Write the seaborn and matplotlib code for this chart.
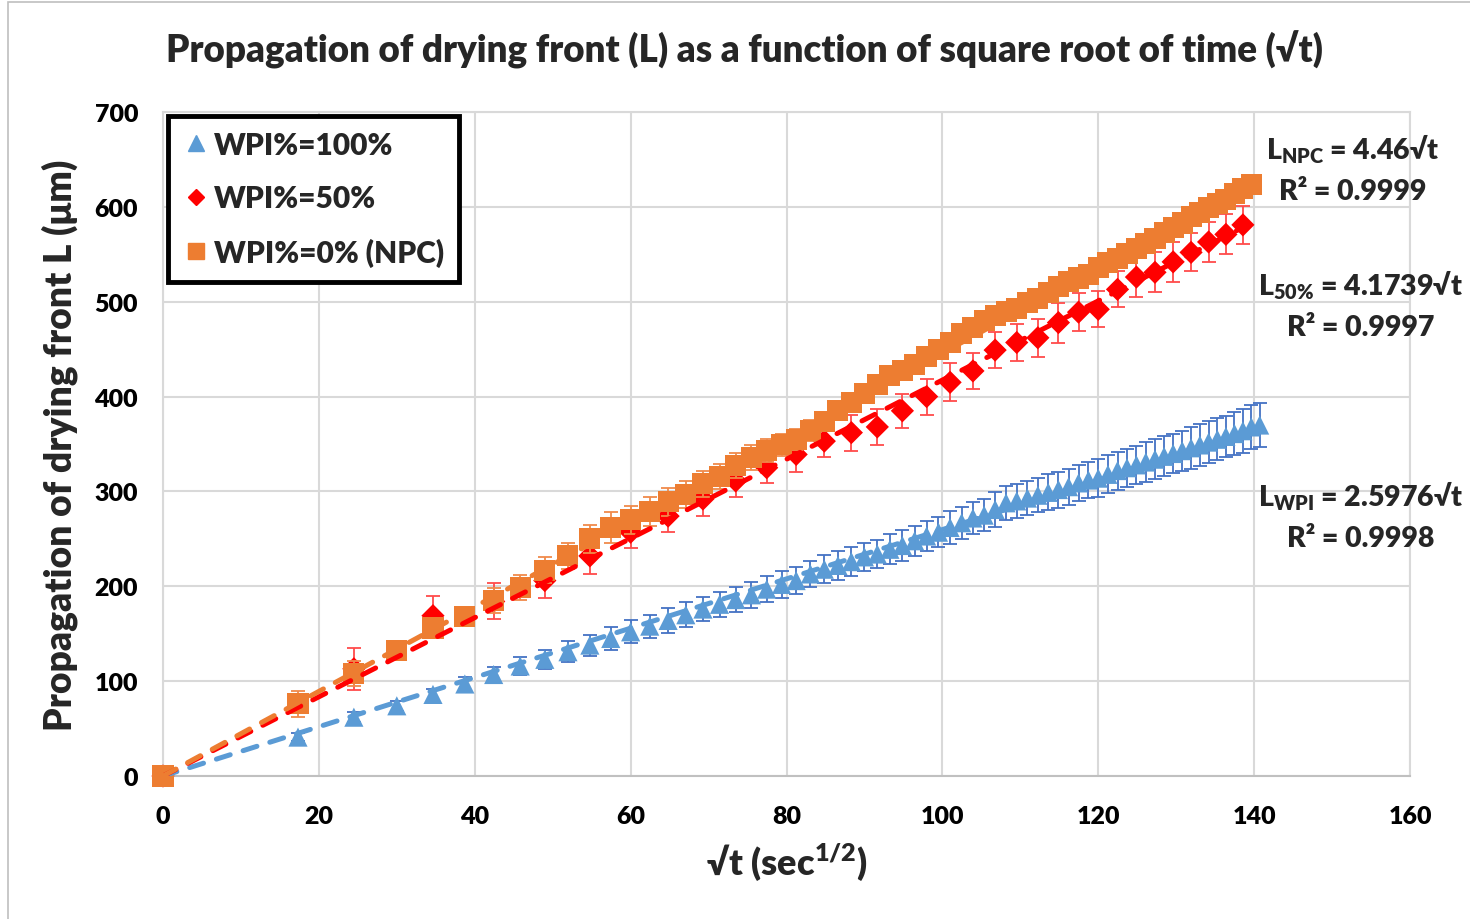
import numpy as np
import pandas as pd
import matplotlib
matplotlib.use("Agg")
import matplotlib.pyplot as plt
import seaborn as sns
from matplotlib.lines import Line2D
from matplotlib.patches import Rectangle

# square root of time (sec^1/2), sampled every 300 s
sqrt_t = [0, 17.32, 24.49, 30.0, 34.64, 38.73, 42.43, 45.83, 48.99, 51.96, 54.77,
          57.45, 60.0, 62.45, 64.81, 67.08, 69.28, 71.41, 73.48, 75.5, 77.46, 79.37,
          81.24, 83.07, 84.85, 86.6, 88.32, 90.0, 91.65, 93.27, 94.87, 96.44, 97.98,
          99.5, 100.99, 102.47, 103.92, 105.36, 106.77, 108.17, 109.54, 110.91,
          112.25, 113.58, 114.89, 116.19, 117.47, 118.74, 120.0, 121.24, 122.47,
          123.69, 124.9, 126.1, 127.28, 128.45, 129.61, 130.77, 131.91, 133.04,
          134.16, 135.28, 136.38, 137.48, 138.56, 139.64, 140.71]

# WPI%=100%
L_wpi = [0, 41, 62, 74, 86, 97, 107, 116, 123, 131, 138, 145, 152, 158, 164, 170,
         176, 181, 186, 191, 197, 202, 206, 213, 218, 222, 226, 231, 234, 239, 243,
         248, 253, 257, 262, 267, 272, 275, 281, 288, 290, 293, 296, 299, 302, 305,
         309, 312, 314, 318, 322, 325, 328, 331, 334, 337, 340, 343, 346, 349, 352,
         355, 358, 361, 364, 368, 370]
err_wpi = [0, 4, 5, 5, 6, 7, 8, 9, 10, 11, 11, 12, 12, 12, 13, 13, 13, 13, 13, 14,
           14, 14, 14, 14, 15, 15, 15, 15, 15, 16, 16, 16, 16, 16, 17, 17, 17, 17,
           18, 18, 18, 18, 18, 19, 19, 19, 19, 19, 20, 20, 20, 20, 20, 21, 21, 21,
           21, 21, 22, 22, 22, 22, 22, 23, 23, 23, 23]

# WPI%=50% (sampled every 600 s)
sqrt_t_50 = [0, 24.49, 34.64, 42.43, 48.99, 54.77, 60.0, 64.81, 69.28, 73.48, 77.46,
             81.24, 84.85, 88.32, 91.65, 94.87, 97.98, 100.99, 103.92, 106.77,
             109.54, 112.25, 114.89, 117.47, 120.0, 122.47, 124.9, 127.28, 129.61,
             131.91, 134.16, 136.38, 138.56]
L_50 = [0, 113, 169, 184, 206, 232, 257, 274, 292, 311, 325, 339, 353, 362, 368,
        385, 400, 415, 427, 449, 457, 462, 478, 489, 492, 513, 526, 531, 542, 552,
        563, 571, 581]
err_50 = [0, 22, 21, 19, 18, 19, 17, 17, 18, 17, 16, 18, 17, 19, 19, 18, 19, 20, 19,
          19, 20, 20, 21, 20, 19, 19, 21, 21, 21, 20, 21, 21, 20]

# WPI%=0% (NPC)
sqrt_t_npc = sqrt_t[:66]
L_npc = [0, 76, 108, 132, 156, 168, 185, 199, 217, 232, 250, 262, 270, 279, 289, 297,
         308, 316, 327, 336, 343, 349, 355, 364, 374, 385, 394, 403, 413, 422, 427,
         434, 442, 450, 457, 466, 473, 480, 485, 490, 493, 499, 503, 510, 516, 521,
         525, 529, 536, 541, 546, 551, 556, 561, 567, 573, 578, 583, 590, 594, 599,
         604, 608, 614, 619, 624]
err_npc = [0, 14, 13, 10, 10, 9, 13, 13, 14, 14, 15, 16, 15, 15, 15, 14, 14, 13, 13,
           13, 12, 12, 11, 11, 10, 10, 10, 9, 9, 9, 9, 9, 8, 8, 8, 8, 8, 8, 8, 8, 8,
           8, 8, 8, 8, 8, 8, 8, 8, 8, 8, 8, 8, 8, 8, 8, 8, 8, 8, 8, 8, 8, 8, 8, 8, 8]

labels = ["WPI%=100%", "WPI%=50%", "WPI%=0% (NPC)"]
slopes = [2.5976, 4.1739, 4.46]
r2 = ["0.9998", "0.9997", "0.9999"]

W = "heavy"

sns.set_theme(style="whitegrid")
plt.rcParams["font.family"] = ["Lato", "DejaVu Sans"]
plt.rcParams["font.weight"] = W
plt.rcParams["mathtext.fontset"] = "custom"
plt.rcParams["mathtext.rm"] = "Lato:heavy"
plt.rcParams["mathtext.it"] = "Lato:heavy"
plt.rcParams["mathtext.bf"] = "Lato:heavy"

fig = plt.figure(figsize=(14.7, 9.2), dpi=100)
ax = fig.add_axes([163 / 1470, 1 - 777 / 920, 1247 / 1470, 664 / 920])

series = [
    (sqrt_t, L_wpi, err_wpi, "#5B9BD5", "#4472C4", "^", 190),
    (sqrt_t_50, L_50, err_50, "#FF0000", "#FF4B4B", "D", 140),
    (sqrt_t_npc, L_npc, err_npc, "#ED7D31", "#F08A4B", "s", 230),
]

for i, (x, y, e, col, ecol, mk, size) in enumerate(series):
    df = pd.DataFrame({"sqrt_t": x, "L": y})
    ax.errorbar(x, y, yerr=e, fmt="none", ecolor=ecol, elinewidth=1.3,
                capsize=5, capthick=1.3, zorder=2 + 2 * i)
    sns.scatterplot(data=df, x="sqrt_t", y="L", marker=mk, color=col, s=size,
                    edgecolor="none", linewidth=0, ax=ax, zorder=3 + 2 * i,
                    clip_on=False)

# trend lines (L = k*sqrt(t))
n_before = len(ax.lines)
for (x, y, e, col, ecol, mk, size), k in zip(series, slopes):
    fit = pd.DataFrame({"sqrt_t": [0, max(x)], "L": [0, k * max(x)]})
    sns.lineplot(data=fit, x="sqrt_t", y="L", color=col, lw=3.6, ax=ax, zorder=10)
for line in ax.lines[n_before:]:
    line.set_linestyle((0, (2.9, 2.7)))
    line.set_dash_capstyle("round")

ax.set_xlim(0, 160)
ax.set_ylim(0, 700)
ax.set_xticks(range(0, 161, 20))
ax.set_yticks(range(0, 701, 100))
ax.grid(True, color="#d9d9d9", lw=1.5)
for s in ax.spines.values():
    s.set_color("#d9d9d9")
    s.set_linewidth(1.5)
ax.spines["bottom"].set_color("#c0c0c0")
ax.tick_params(axis="both", length=0, labelsize=18, colors="black")
ax.tick_params(axis="x", pad=21)
ax.tick_params(axis="y", pad=18)
for lab in ax.get_xticklabels() + ax.get_yticklabels():
    lab.set_fontweight(W)

ax.set_xlabel("√t (sec$^{1/2}$)", fontsize=26, fontweight=W, labelpad=10)
ax.set_ylabel("Propagation of drying front L (μm)", fontsize=26.7,
              fontweight=W, labelpad=12)
fig.suptitle("Propagation of drying front (L) as a function of square root of time (√t)",
             x=745 / 1470, y=1 - 50 / 920, va="center", fontsize=26.5, fontweight=W)

handles = [Line2D([], [], ls="none", marker=mk, color=col, markersize=ms)
           for (_, _, _, col, _, mk, _), ms in zip(series, [11, 8, 11])]
leg = ax.legend(handles, labels, loc="upper left", bbox_to_anchor=(0.004, 0.994),
                borderaxespad=0, fancybox=False, framealpha=1, edgecolor="black",
                prop={"size": 21.5, "weight": W}, handletextpad=0.15,
                handlelength=0.9, labelspacing=0.85, borderpad=0.5)
leg.get_frame().set_linewidth(3.5)
leg.set_zorder(20)

notes = [
    (1353, 169, "L$_{NPC}$ = %s√t\nR² = %s" % (slopes[2], r2[2])),
    (1361, 305, "L$_{50\\%%}$ = %s√t\nR² = %s" % (slopes[1], r2[1])),
    (1361, 516, "L$_{WPI}$ = %s√t\nR² = %s" % (slopes[0], r2[0])),
]
for px, py, txt in notes:
    fig.text(px / 1470, 1 - py / 920, txt, ha="center", va="center",
             multialignment="center", fontsize=20.5, fontweight=W,
             linespacing=1.6)

fig.patches.append(Rectangle((8 / 1470, -0.01), 1.0, 1 - 3 / 920 + 0.01,
                             transform=fig.transFigure, fill=False,
                             edgecolor="#bfbfbf", lw=1.2))

fig.savefig("out.png", dpi=100)
